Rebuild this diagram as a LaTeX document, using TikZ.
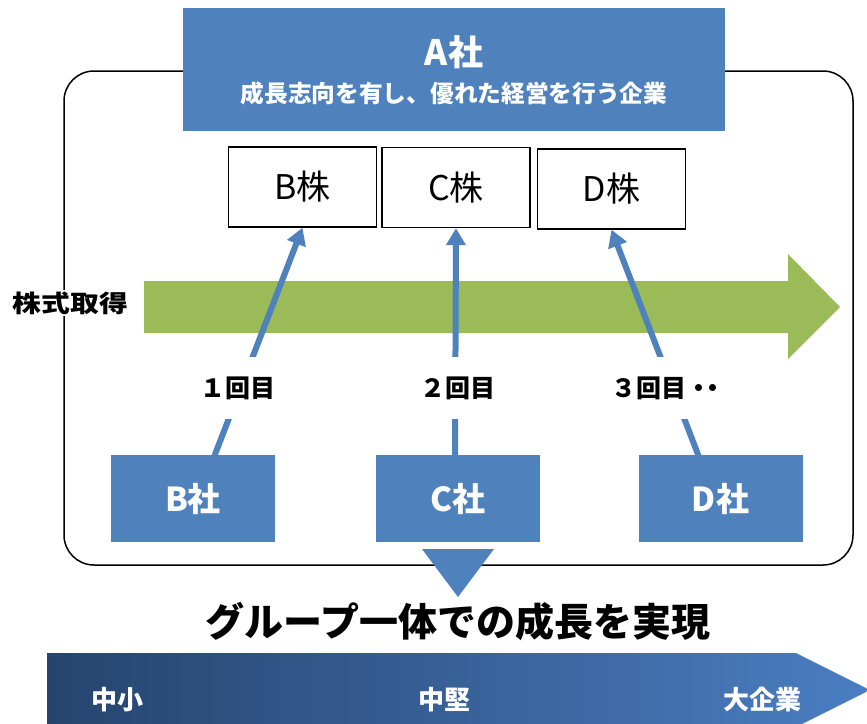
\documentclass[tikz,border=0pt]{standalone}
\usepackage{fontspec}
\setmainfont{Noto Sans CJK JP}
\usetikzlibrary{arrows.meta,calc}
\definecolor{ablue}{HTML}{4F81BD}
\definecolor{agreen}{HTML}{9BBB59}
\definecolor{gdark}{HTML}{26446E}
\definecolor{glight}{HTML}{4A7EC2}
\tikzset{
  bluebox/.style={fill=ablue, draw=none, inner sep=0pt},
  stockbox/.style={fill=white, draw=black, line width=1.4pt, inner sep=0pt, minimum width=148pt, minimum height=80pt, font=\fontsize{34}{38}\selectfont},
  cobox/.style={fill=ablue, draw=none, inner sep=0pt, minimum width=164pt, minimum height=87pt, text=white, font=\fontsize{33}{36}\selectfont\bfseries},
  roundlabel/.style={fill=white, inner sep=0pt, minimum width=100pt, minimum height=62pt, font=\fontsize{25}{28}\selectfont\bfseries},
  conn/.style={draw=ablue, line width=6pt, -{Triangle[length=17pt,width=19pt]}},
  scalelabel/.style={text=white, inner sep=0pt, font=\fontsize{26}{28}\selectfont\bfseries},
  frame/.style={draw=black, line width=1.5pt, rounded corners=30pt, inner sep=0pt}
}
\begin{document}
\begin{tikzpicture}[x=1pt,y=-1pt]
\useasboundingbox (0,0) rectangle (867,723);
% outer frame
\node[frame, minimum width=789pt, minimum height=494pt] (frame) at (458.5,318) {};
% A company
\node[bluebox, minimum width=542pt, minimum height=123pt] (A) at (454,69.5) {};
\node[text=white, inner sep=0pt, font=\fontsize{35}{38}\selectfont\bfseries] (Atitle) at (454,52) {A社};
\node[text=white, inner sep=0pt, font=\fontsize{23.7}{26}\selectfont\bfseries] (Asub) at (454,93) {成長志向を有し、優れた経営を行う企業};
% stock boxes
\node[stockbox] (Bs) at (302.5,187) {B株};
\node[stockbox] (Cs) at (456,187.5) {C株};
\node[stockbox] (Ds) at (611.5,189) {D株};
% green arrow
\fill[agreen] (144,281) -- (788,281) -- (788,254) -- (840,307) -- (788,359) -- (788,333) -- (144,333) -- cycle;
\node[fill=white, inner sep=2pt, font=\fontsize{24}{28}\selectfont\bfseries] (acq) at (70.5,303) {\scalebox{1.2}[1]{株式取得}};
% connectors
\coordinate (Bstart) at (209,470);
\coordinate (Cstart) at (455,470);
\coordinate (Dstart) at (704,470);
\draw[conn] (Bstart) -- (Bs.south);
\draw[conn] (Cstart) -- (Cs.south);
\draw[conn] (Dstart) -- (Ds.south);
\node[roundlabel] (r1) at (238,388) {１回目};
\node[roundlabel] (r2) at (458,388) {２回目};
\node[roundlabel, minimum width=112pt] (r3) at (668,388) {３回目・\hspace{-11pt}・};
% companies
\node[cobox] (Bc) at (193,498.5) {B社};
\node[cobox] (Cc) at (457.5,498.5) {C社};
\node[cobox] (Dc) at (720.5,498.5) {D社};
% down triangle
\fill[ablue] (422,549) -- (494,549) -- (458,597) -- cycle;
\node[inner sep=0pt, font=\fontsize{39}{42}\selectfont\bfseries] (title) at (458,622) {グループ一体での成長を実現};
% gradient arrow
\shade[left color=gdark, right color=glight] (47,653) -- (796,653) -- (870,690) -- (796,727) -- (47,727) -- cycle;
\node[scalelabel] (s1) at (117,700) {中小};
\node[scalelabel] (s2) at (444,700) {中堅};
\node[scalelabel] (s3) at (762,700) {大企業};
\end{tikzpicture}
\end{document}
